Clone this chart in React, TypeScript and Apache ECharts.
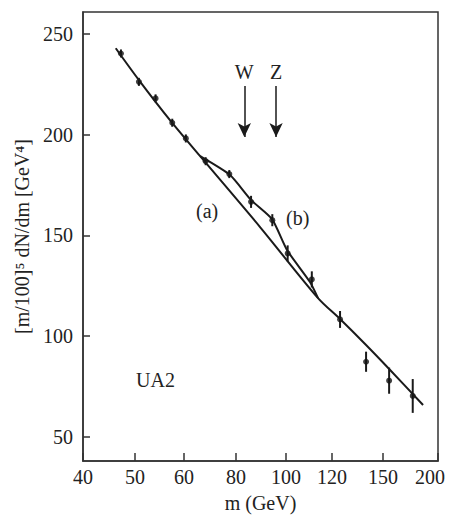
import React, { useEffect, useRef } from "react";
import * as echarts from "echarts";

// X axis tick labels (GeV) and their positions along the (non-uniform) axis
const tickMasses = [40, 50, 60, 80, 100, 120, 150, 200];
const tickPos = [0, 1.025, 1.992, 3.018, 4.004, 4.911, 5.917, 7];
const yTicks = [50, 100, 150, 200, 250];

// Data points: mass (GeV), value, error
const ptMass = [47.3, 50.8, 54.2, 57.6, 60.7, 68.3, 77.4, 86, 94.5, 100.7, 111.2, 124.7, 140, 155.5, 177];
const ptVal = [240.4, 226.3, 218.1, 206, 198.2, 186.9, 180.5, 166.7, 157.6, 141.1, 128.2, 108.3, 87.3, 77.9, 70.3];
const ptErr = [2, 2, 2, 2, 2, 2, 2, 3, 3, 4, 4, 4.2, 5, 6.5, 8.4];

// Curve (a): background fit
const aMass = [46.3, 50.8, 57.3, 66.2, 89.6, 113.9, 124.7, 140, 156.4, 186.4];
const aVal = [243, 227.2, 206.8, 189.4, 154.2, 118.9, 108.5, 95.6, 83.2, 65.8];
// Curve (b): fit including W/Z
const bMass = [66.2, 77.7, 86, 94.4, 100.4, 110.4, 113.9];
const bVal = [189.4, 180, 167.6, 158.1, 142.8, 126.9, 118.9];

// W, Z arrows
const arrowNames = ["W", "Z"];
const arrowMass = [83.3, 96];
const arrowTop = 224.2;
const arrowBottom = 198.9;

function massToPos(m: number): number {
  for (let i = 0; i < tickMasses.length - 1; i++) {
    if (m <= tickMasses[i + 1] || i === tickMasses.length - 2) {
      const t = (m - tickMasses[i]) / (tickMasses[i + 1] - tickMasses[i]);
      return tickPos[i] + t * (tickPos[i + 1] - tickPos[i]);
    }
  }
  return 0;
}

const FONT = '"Liberation Serif", "Times New Roman", serif';

export default function App() {
  const ref = useRef<HTMLDivElement>(null);
  useEffect(() => {
    if (!ref.current) return;
    const chart = echarts.init(ref.current, null, { renderer: "svg" });
    const points = ptMass.map((m, i) => [massToPos(m), ptVal[i]]);
    const errs = ptMass.map((m, i) => [massToPos(m), ptVal[i] - ptErr[i], ptVal[i] + ptErr[i]]);
    const lineA = aMass.map((m, i) => [massToPos(m), aVal[i]]);
    const lineB = bMass.map((m, i) => [massToPos(m), bVal[i]]);
    const textStyle = { fontFamily: FONT, fontSize: 20, color: "#222" };
    chart.setOption({
      animation: false,
      backgroundColor: "#fff",
      grid: {
        left: 83, right: 11, top: 12, bottom: 55,
        outerBoundsMode: "none",
        containLabel: false,
        show: true, borderColor: "#333", borderWidth: 1.5,
      },
      xAxis: {
        type: "value",
        min: 0,
        max: 7,
        name: "m (GeV)",
        nameLocation: "middle",
        nameGap: 32,
        nameTextStyle: textStyle,
        splitLine: { show: false },
        axisLine: { show: true, lineStyle: { color: "#333", width: 1.5 } },
        axisTick: { inside: true, length: 8, customValues: tickPos, lineStyle: { color: "#333", width: 1.5 } },
        axisLabel: {
          customValues: tickPos,
          margin: 6,
          ...textStyle,
          formatter: (v: number) => {
            const i = tickPos.findIndex((p) => Math.abs(p - v) < 1e-6);
            if (i < 0) return "";
            if (i === tickPos.length - 1) return `{r|${tickMasses[i]}}`;
            return String(tickMasses[i]);
          },
          rich: { r: { ...textStyle, width: 46, align: "left" } },
        },
      },
      yAxis: {
        type: "value",
        min: 38,
        max: 261,
        name: "[m/100]\u2075 dN/dm [GeV\u2074]",
        nameLocation: "middle",
        nameGap: 50,
        nameRotate: 90,
        nameTextStyle: textStyle,
        splitLine: { show: false },
        axisLine: { show: true, lineStyle: { color: "#333", width: 1.5 } },
        axisTick: { inside: true, length: 7, customValues: yTicks, lineStyle: { color: "#333", width: 1.5 } },
        axisLabel: { customValues: yTicks, margin: 10, ...textStyle },
      },
      graphic: [
        { type: "text", left: 196, top: 201, style: { text: "(a)", font: `20px ${FONT}`, fill: "#222" } },
        { type: "text", left: 286, top: 208, style: { text: "(b)", font: `20px ${FONT}`, fill: "#222" } },
        { type: "text", left: 136, top: 370, style: { text: "UA2", font: `20px ${FONT}`, fill: "#222" } },
      ],
      series: [
        {
          type: "line",
          data: lineA,
          smooth: 0.3,
          symbol: "none",
          lineStyle: { color: "#1a1a1a", width: 2 },
        },
        {
          type: "line",
          data: lineB,
          smooth: 0.2,
          symbol: "none",
          lineStyle: { color: "#1a1a1a", width: 2 },
        },
        {
          type: "custom",
          data: errs,
          renderItem: (params: any, api: any) => {
            const x = api.value(0);
            const p1 = api.coord([x, api.value(1)]);
            const p2 = api.coord([x, api.value(2)]);
            return {
              type: "line",
              shape: { x1: p1[0], y1: p1[1], x2: p2[0], y2: p2[1] },
              style: { stroke: "#1a1a1a", lineWidth: 2 },
            };
          },
        },
        {
          type: "scatter",
          data: points,
          symbol: "circle",
          symbolSize: 6,
          itemStyle: { color: "#111" },
          markLine: {
            silent: true,
            symbol: ["none", "arrow"],
            symbolSize: [10, 14],
            lineStyle: { color: "#1a1a1a", width: 1.5, type: "solid" },
            label: { show: true, position: "start", distance: 4, ...textStyle, formatter: (p: any) => p.name },
            data: arrowMass.map((m, i) => [
              { name: arrowNames[i], coord: [massToPos(m), arrowTop] },
              { coord: [massToPos(m), arrowBottom] },
            ]),
          },
        },
      ],
    });
    return () => chart.dispose();
  }, []);
  return <div ref={ref} style={{ position: "fixed", left: 0, top: 0, width: 449, height: 516 }} />;
}
